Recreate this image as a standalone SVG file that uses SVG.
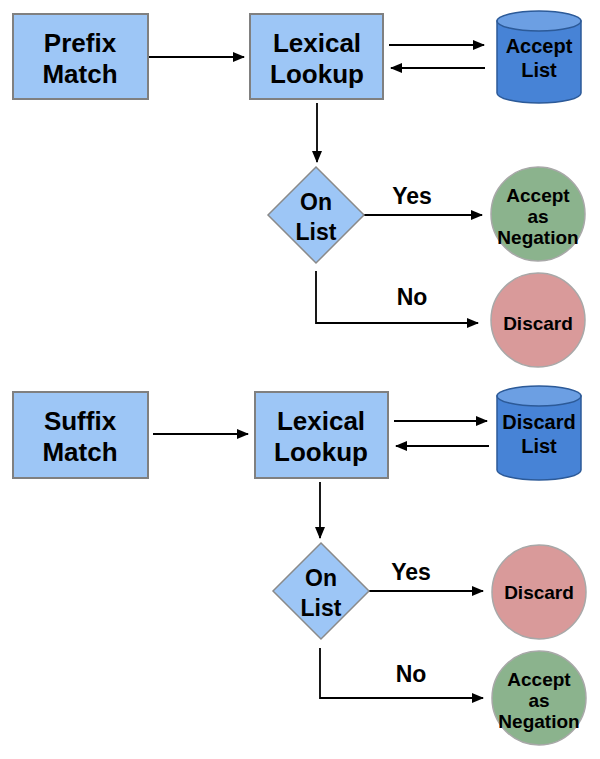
<svg xmlns="http://www.w3.org/2000/svg" width="600" height="759" viewBox="0 0 600 759">
<defs>
<marker id="ah" markerWidth="12" markerHeight="10" refX="11" refY="5" orient="auto" markerUnits="userSpaceOnUse">
<path d="M0,0 L12,5 L0,10 Z" fill="#000"/>
</marker>
<style>
.box{fill:#9dc6f6;stroke:#808080;stroke-width:2}
.dia{fill:#9dc6f6;stroke:#8a8a8a;stroke-width:1.5}
.cylb{fill:#4783d6;stroke:#2c5a98;stroke-width:1.5}
.cylt{fill:#6c9fe3;stroke:#2c5a98;stroke-width:1.5}
.gr{fill:#8bb38d;stroke:#a8a8a8;stroke-width:1.5}
.rd{fill:#d99a9a;stroke:#a8a8a8;stroke-width:1.5}
.t{font-family:"Liberation Sans",Arial,sans-serif;font-weight:bold;fill:#000;text-anchor:middle}
.big{font-size:26px}
.mid{font-size:23px}
.cy{font-size:20px}
.sm{font-size:19px}
.ln{fill:none;stroke:#000;stroke-width:1.8}
</style>
</defs>
<rect width="600" height="759" fill="#fff"/>

<g id="connectors">
<line class="ln" x1="148" y1="57" x2="244" y2="57" marker-end="url(#ah)"/>
<line class="ln" x1="389" y1="45" x2="484" y2="45" marker-end="url(#ah)"/>
<line class="ln" x1="485" y1="68" x2="391" y2="68" marker-end="url(#ah)"/>
<line class="ln" x1="317" y1="103" x2="317" y2="162" marker-end="url(#ah)"/>
<line class="ln" x1="364" y1="215" x2="482" y2="215" marker-end="url(#ah)"/>
<polyline class="ln" points="316,271 316,323 478,323" marker-end="url(#ah)"/>
<text class="t mid" x="412" y="204">Yes</text>
<text class="t mid" x="412" y="305">No</text>

<line class="ln" x1="153" y1="434" x2="248" y2="434" marker-end="url(#ah)"/>
<line class="ln" x1="394" y1="421" x2="487" y2="421" marker-end="url(#ah)"/>
<line class="ln" x1="489" y1="446" x2="396" y2="446" marker-end="url(#ah)"/>
<line class="ln" x1="320" y1="482" x2="320" y2="538" marker-end="url(#ah)"/>
<line class="ln" x1="369" y1="591" x2="483" y2="591" marker-end="url(#ah)"/>
<polyline class="ln" points="320,648 320,698 483,698" marker-end="url(#ah)"/>
<text class="t mid" x="411" y="580">Yes</text>
<text class="t mid" x="411" y="682">No</text>
</g>

<g id="prefix-match">
<rect class="box" x="13" y="14" width="135" height="85"/>
<text class="t big" x="80" y="52">Prefix</text>
<text class="t big" x="80" y="83">Match</text>
</g>
<g id="lexical-lookup-1">
<rect class="box" x="250" y="14" width="133" height="85"/>
<text class="t big" x="317" y="52">Lexical</text>
<text class="t big" x="317" y="83">Lookup</text>
</g>
<g id="accept-list">
<path class="cylb" d="M497,21 L497,93 A42,10 0 0 0 581,93 L581,21 Z"/>
<ellipse class="cylt" cx="539" cy="21" rx="42" ry="10"/>
<text class="t cy" x="539" y="53">Accept</text>
<text class="t cy" x="539" y="77">List</text>
</g>
<g id="on-list-1">
<polygon class="dia" points="316,167 364,215 316,263 268,215"/>
<text class="t mid" x="316" y="210">On</text>
<text class="t mid" x="316" y="240">List</text>
</g>
<g id="accept-negation-1">
<circle class="gr" cx="538" cy="214" r="47"/>
<text class="t sm" x="538" y="202">Accept</text>
<text class="t sm" x="538" y="223">as</text>
<text class="t sm" x="538" y="244">Negation</text>
</g>
<g id="discard-1">
<circle class="rd" cx="538" cy="320" r="47"/>
<text class="t sm" x="538" y="330">Discard</text>
</g>

<g id="suffix-match">
<rect class="box" x="13" y="392" width="135" height="86"/>
<text class="t big" x="80" y="430">Suffix</text>
<text class="t big" x="80" y="461">Match</text>
</g>
<g id="lexical-lookup-2">
<rect class="box" x="255" y="392" width="133" height="86"/>
<text class="t big" x="321" y="430">Lexical</text>
<text class="t big" x="321" y="461">Lookup</text>
</g>
<g id="discard-list">
<path class="cylb" d="M497,396 L497,470 A42,10 0 0 0 581,470 L581,396 Z"/>
<ellipse class="cylt" cx="539" cy="396" rx="42" ry="10"/>
<text class="t cy" x="539" y="429">Discard</text>
<text class="t cy" x="539" y="453">List</text>
</g>
<g id="on-list-2">
<polygon class="dia" points="321,543 369,591 321,639 273,591"/>
<text class="t mid" x="321" y="586">On</text>
<text class="t mid" x="321" y="616">List</text>
</g>
<g id="discard-2">
<circle class="rd" cx="539" cy="592" r="47"/>
<text class="t sm" x="539" y="599">Discard</text>
</g>
<g id="accept-negation-2">
<circle class="gr" cx="539" cy="698" r="47"/>
<text class="t sm" x="539" y="686">Accept</text>
<text class="t sm" x="539" y="707">as</text>
<text class="t sm" x="539" y="728">Negation</text>
</g>
</svg>
